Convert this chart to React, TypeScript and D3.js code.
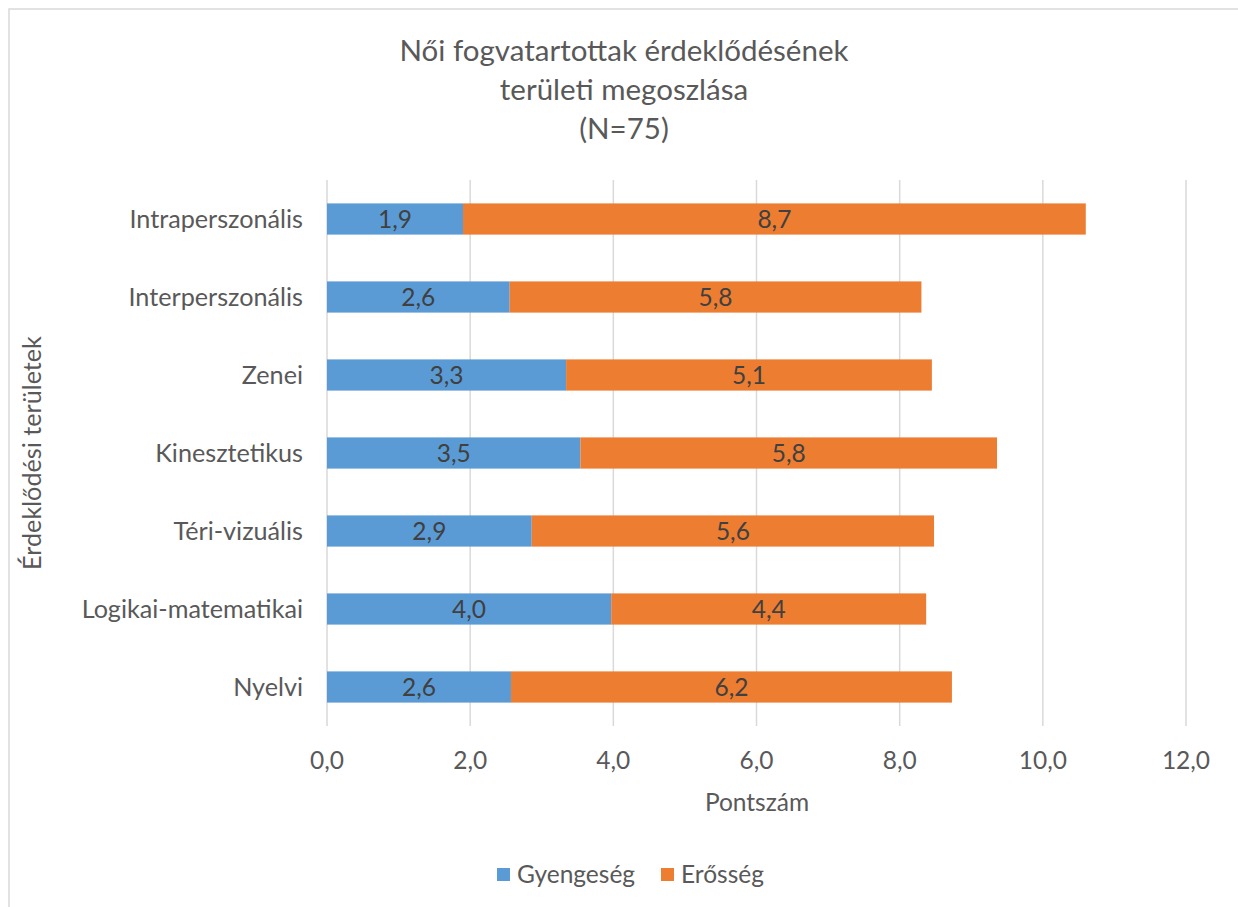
import React from "react";
import * as d3 from "d3";

const categories = [
  "Intraperszonális",
  "Interperszonális",
  "Zenei",
  "Kinesztetikus",
  "Téri-vizuális",
  "Logikai-matematikai",
  "Nyelvi",
];
const weakness = [1.9, 2.552, 3.34, 3.54, 2.86, 3.97, 2.57];
const strength = [8.7, 5.752, 5.11, 5.82, 5.62, 4.4, 6.16];
const xTicks = [0, 2, 4, 6, 8, 10, 12];
const seriesNames = ["Gyengeség", "Erősség"];
const colors = ["#5b9bd5", "#ed7d31"];
const titleLines = ["Női fogvatartottak érdeklődésének", "területi megoszlása", "(N=75)"];

const W = 1238;
const H = 907;
const left = 327;
const right = 1186;
const top = 180;
const bottom = 726;
const FONT = "Lato, 'Open Sans', sans-serif";
const FS = 24.5;

const fmt = (v: number) => v.toFixed(1).replace(".", ",");

export default function App() {
  const x = d3.scaleLinear().domain([0, 12]).range([left, right]);
  const y = d3.scaleBand<string>().domain(categories).range([top, bottom]).paddingInner(0.6).paddingOuter(0.3);
  const stacked = categories.map((c, i) => {
    const segs = [weakness[i], strength[i]];
    let acc = 0;
    return segs.map((v, k) => {
      const s = { cat: c, x0: acc, x1: acc + v, v, k };
      acc += v;
      return s;
    });
  });
  return (
    <svg width={W} height={H} style={{ position: "absolute", left: 0, top: 0, background: "#fff" }} fontFamily={FONT}>
      <rect x={0} y={0} width={W} height={H} fill="#fff" />
      <rect x={9} y={9} width={W + 20} height={H + 20} fill="none" stroke="#d9d9d9" strokeWidth={1.5} />
      {titleLines.map((t, i) => (
        <text key={i} x={624} y={50 + i * 39} dy="0.36em" textAnchor="middle" fontSize={29.5} fill="#595959">
          {t}
        </text>
      ))}
      {xTicks.map((t) => (
        <line key={t} x1={x(t)} x2={x(t)} y1={top} y2={bottom} stroke="#d9d9d9" strokeWidth={1.5} />
      ))}
      {stacked.map((segs) =>
        segs.map((s) => (
          <g key={s.cat + s.k}>
            <rect
              x={x(s.x0)}
              y={y(s.cat)!}
              width={x(s.x1) - x(s.x0)}
              height={y.bandwidth()}
              fill={colors[s.k]}
            />
            <text
              x={(x(s.x0) + x(s.x1)) / 2}
              y={y(s.cat)! + y.bandwidth() / 2}
              dy="0.36em"
              textAnchor="middle"
              fontSize={FS}
              fill="#404040"
            >
              {fmt(s.v)}
            </text>
          </g>
        ))
      )}
      {categories.map((c) => (
        <text key={c} x={303} y={y(c)! + y.bandwidth() / 2} dy="0.36em" textAnchor="end" fontSize={25.2} fill="#595959">
          {c}
        </text>
      ))}
      {xTicks.map((t) => (
        <text key={"t" + t} x={x(t)} y={760} dy="0.36em" textAnchor="middle" fontSize={FS} fill="#595959">
          {fmt(t)}
        </text>
      ))}
      <text x={757} y={802} dy="0.36em" textAnchor="middle" fontSize={FS} fill="#595959">
        Pontszám
      </text>
      <text
        transform={`translate(32,${(top + bottom) / 2}) rotate(-90)`}
        dy="0.36em"
        textAnchor="middle"
        fontSize={25.2}
        fill="#595959"
      >
        Érdeklődési területek
      </text>
      {seriesNames.map((n, i) => {
        const lx = [497, 661][i];
        return (
          <g key={n}>
            <rect x={lx} y={868} width={13} height={13} fill={colors[i]} />
            <text x={lx + 20} y={874} dy="0.36em" fontSize={FS} fill="#595959">
              {n}
            </text>
          </g>
        );
      })}
    </svg>
  );
}
